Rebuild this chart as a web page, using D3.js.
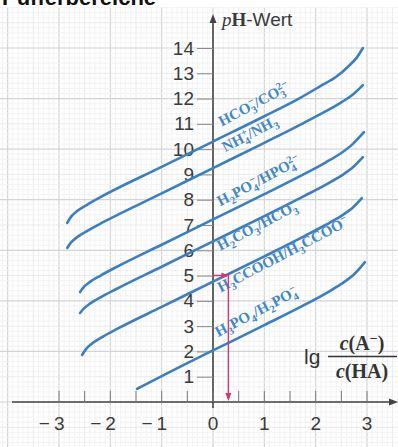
<!DOCTYPE html>
<html>
<head>
<meta charset="utf-8">
<script src="https://cdn.jsdelivr.net/npm/d3@7"></script>
<style>
  html, body { margin: 0; padding: 0; background: #fff; }
  svg { display: block; }
</style>
</head>
<body>
<svg id="chart" width="398" height="447"></svg>
<script>
const xTicks = [-3, -2, -1, 0, 1, 2, 3];
const yTicks = [1, 2, 3, 4, 5, 6, 7, 8, 9, 10, 11, 12, 13, 14];

// [lg(c(A-)/c(HA)), pH]
const carbonateCurve = [[-2.84, 7.08], [-2.76, 7.34], [-2.64, 7.56], [-2.44, 7.82], [-2.14, 8.16], [-1, 9.3], [0, 10.3], [1, 11.3], [1.7, 12.03], [2.1, 12.5], [2.4, 12.86], [2.65, 13.3], [2.8, 13.62], [2.92, 14.0]];
const ammoniumCurve = [[-2.84, 6.09], [-2.76, 6.32], [-2.64, 6.53], [-2.44, 6.78], [-2.14, 7.11], [-1, 8.25], [0, 9.25], [1, 10.25], [1.8, 11.07], [2.2, 11.5], [2.5, 11.85], [2.72, 12.15], [2.92, 12.53]];
const hydrogenPhosphateCurve = [[-2.59, 4.35], [-2.51, 4.56], [-2.39, 4.76], [-2.19, 5.0], [-1.89, 5.33], [-1, 6.22], [0, 7.22], [1, 8.22], [1.8, 9.04], [2.2, 9.48], [2.5, 9.85], [2.72, 10.2], [2.94, 10.67]];
const carbonicCurve = [[-2.59, 3.52], [-2.51, 3.71], [-2.39, 3.9], [-2.19, 4.14], [-1.89, 4.46], [-1, 5.35], [0, 6.35], [1, 7.35], [1.8, 8.17], [2.2, 8.6], [2.5, 8.95], [2.72, 9.27], [2.92, 9.68]];
const aceticCurve = [[-2.55, 1.86], [-2.47, 2.1], [-2.35, 2.32], [-2.15, 2.58], [-1.85, 2.91], [-1, 3.76], [0, 4.76], [1, 5.76], [1.8, 6.58], [2.2, 7.01], [2.5, 7.36], [2.72, 7.68], [2.9, 8.06]];
const phosphoricCurve = [[-1.48, 0.52], [-0.5, 1.54], [0, 2.04], [1, 3.04], [1.8, 3.86], [2.2, 4.3], [2.5, 4.67], [2.75, 5.05], [2.96, 5.53]];

// label text pieces: [text, kind]
const carbonateLabel = [["HCO", ""], ["3", "sub"], ["−", "sup"], ["/CO", ""], ["3", "sub"], ["2−", "sup"]];
const ammoniumLabel = [["NH", ""], ["4", "sub"], ["+", "sup"], ["/NH", ""], ["3", "sub"]];
const hydrogenPhosphateLabel = [["H", ""], ["2", "sub"], ["PO", ""], ["4", "sub"], ["−", "sup"], ["/HPO", ""], ["4", "sub"], ["2−", "sup"]];
const carbonicLabel = [["H", ""], ["2", "sub"], ["CO", ""], ["3", "sub"], ["/HCO", ""], ["3", "sub"], ["−", "sup"]];
const aceticLabel = [["H", ""], ["3", "sub"], ["CCOOH/H", ""], ["3", "sub"], ["CCOO", ""], ["−", "sup"]];
const phosphoricLabel = [["H", ""], ["3", "sub"], ["PO", ""], ["4", "sub"], ["/H", ""], ["2", "sub"], ["PO", ""], ["4", "sub"], ["−", "sup"]];

// example reading: pH 5 -> lg ratio 0.3
const exampleReading = { lg: 0.3, pH: 5 };

const buffers = [
  { points: carbonateCurve, label: carbonateLabel, at: [0.17, 10.9] },
  { points: ammoniumCurve, label: ammoniumLabel, at: [0.24, 9.88] },
  { points: hydrogenPhosphateCurve, label: hydrogenPhosphateLabel, at: [0.14, 7.74] },
  { points: carbonicCurve, label: carbonicLabel, at: [0.14, 5.98] },
  { points: aceticCurve, label: aceticLabel, at: [0.15, 4.33] },
  { points: phosphoricCurve, label: phosphoricLabel, at: [0.1, 2.57] },
];

const width = 398;
const height = 447;
const svg = d3.select("#chart");

const x = d3.scaleLinear().domain([-3, 3]).range([59, 367]);
const y = d3.scaleLinear().domain([0, 14]).range([402, 48]);

const BLUE = "#3b7fc2";
const RED = "#d8336c";
const INK = "#3a3a3a";

// grid (mm paper)
const grid = svg.append("g");
const gx0 = Math.floor(x.invert(0) * 10), gx1 = Math.ceil(x.invert(width) * 10);
for (let i = gx0; i <= gx1; i++) {
  const major = i % 10 === 0, mid = i % 5 === 0;
  grid.append("line")
    .attr("x1", x(i / 10)).attr("x2", x(i / 10))
    .attr("y1", 7).attr("y2", height)
    .attr("stroke", major ? "#d4d4d4" : mid ? "#e4e4e4" : "#f0f0f0")
    .attr("stroke-width", major ? 1.2 : 0.8);
}
const gy0 = Math.floor(y.invert(height) * 5), gy1 = Math.ceil(y.invert(7) * 5);
for (let j = gy0; j <= gy1; j++) {
  const major = j % 10 === 0, mid = j % 5 === 0;
  const yy = y(j / 5);
  if (yy < 7) continue;
  grid.append("line")
    .attr("x1", 0).attr("x2", width)
    .attr("y1", yy).attr("y2", yy)
    .attr("stroke", major ? "#d4d4d4" : mid ? "#e4e4e4" : "#f0f0f0")
    .attr("stroke-width", major ? 1.2 : 0.8);
}

// heading, cut off by the top edge in the original scan
svg.append("text")
  .attr("x", 2).attr("y", 5)
  .attr("font-family", "Liberation Sans, Arial, sans-serif")
  .attr("font-weight", "bold")
  .attr("font-size", 22)
  .attr("fill", "#111")
  .text("Pufferbereiche");

// axes
const axes = svg.append("g");
axes.append("line")
  .attr("x1", 12).attr("x2", 392)
  .attr("y1", y(0)).attr("y2", y(0))
  .attr("stroke", "#444").attr("stroke-width", 1.6);
axes.append("path")
  .attr("d", `M398,${y(0)} l-9,-3.5 l0,7 z`)
  .attr("fill", "#444");
axes.append("line")
  .attr("x1", x(0)).attr("x2", x(0))
  .attr("y1", 408).attr("y2", 22)
  .attr("stroke", "#444").attr("stroke-width", 1.6);
axes.append("path")
  .attr("d", `M${x(0)},14 l-3.5,9 l7,0 z`)
  .attr("fill", "#444");

// small ticks on the x axis every half unit
axes.selectAll(".xminor")
  .data(d3.range(-6, 7).map((d) => d / 2))
  .join("line")
  .attr("x1", (d) => x(d)).attr("x2", (d) => x(d))
  .attr("y1", y(0) - 11).attr("y2", y(0))
  .attr("stroke", "#777").attr("stroke-width", 1);

// y axis ticks + labels
const yAxis = svg.append("g")
  .attr("transform", `translate(${x(0)},0)`)
  .call(d3.axisLeft(y).tickValues(yTicks).tickSize(16).tickPadding(3));
yAxis.select(".domain").remove();
yAxis.selectAll(".tick line").attr("stroke", "#8a8a8a").attr("stroke-width", 1);
yAxis.selectAll(".tick text")
  .attr("font-family", "Liberation Sans, Arial, sans-serif")
  .attr("font-size", 19)
  .attr("fill", INK);

// x labels: digit centred on the tick, minus hanging to the left
const xLab = svg.append("g")
  .attr("font-family", "Liberation Sans, Arial, sans-serif")
  .attr("font-size", 19)
  .attr("fill", INK);
xTicks.forEach((v) => {
  const t = xLab.append("text")
    .attr("y", 430);
  if (v < 0) {
    t.attr("x", x(v) + 5.5).attr("text-anchor", "end");
    t.append("tspan").text("−");
    t.append("tspan").attr("dx", 4).text(String(-v));
  } else {
    t.attr("x", x(v)).attr("text-anchor", "middle").text(String(v));
  }
});

// pH-Wert
const pHLab = svg.append("text")
  .attr("x", x(0) + 9).attr("y", 26)
  .attr("font-size", 19)
  .attr("fill", INK);
pHLab.append("tspan").attr("font-family", "Liberation Serif, serif").attr("font-style", "italic").text("p");
pHLab.append("tspan").attr("font-family", "Liberation Serif, serif").attr("font-weight", "bold").text("H");
pHLab.append("tspan").attr("font-family", "Liberation Sans, Arial, sans-serif").text("-Wert");

// lg c(A-)/c(HA)
const ratio = svg.append("g").attr("fill", "#333");
ratio.append("text")
  .attr("x", 304).attr("y", 364)
  .attr("font-family", "Liberation Sans, Arial, sans-serif")
  .attr("font-size", 21)
  .text("lg");
const num = ratio.append("text")
  .attr("x", 362).attr("y", 350)
  .attr("text-anchor", "middle")
  .attr("font-family", "Liberation Serif, serif")
  .attr("font-weight", "bold")
  .attr("font-size", 20);
num.append("tspan").attr("font-style", "italic").text("c");
num.append("tspan").text("(A");
num.append("tspan").attr("dy", -7).attr("font-size", 14).text("−");
num.append("tspan").attr("dy", 7).text(")");
ratio.append("line")
  .attr("x1", 328).attr("x2", 397)
  .attr("y1", 356.5).attr("y2", 356.5)
  .attr("stroke", "#333").attr("stroke-width", 1.6);
const den = ratio.append("text")
  .attr("x", 362).attr("y", 378)
  .attr("text-anchor", "middle")
  .attr("font-family", "Liberation Serif, serif")
  .attr("font-weight", "bold")
  .attr("font-size", 20);
den.append("tspan").attr("font-style", "italic").text("c");
den.append("tspan").text("(HA)");

// buffer curves
const line = d3.line()
  .x((d) => x(d[0]))
  .y((d) => y(d[1]))
  .curve(d3.curveMonotoneX);

svg.append("g")
  .selectAll("path")
  .data(buffers)
  .join("path")
  .attr("d", (d) => line(d.points))
  .attr("fill", "none")
  .attr("stroke", BLUE)
  .attr("stroke-width", 2.6)
  .attr("stroke-linecap", "round");

// curve labels, rotated along the slope
const angle = Math.atan2(y(0) - y(1), x(1) - x(0)) * 180 / Math.PI + 1.5;
const labels = svg.append("g")
  .attr("font-family", "Liberation Serif, serif")
  .attr("font-weight", "bold")
  .attr("font-size", 15)
  .attr("fill", "#4187c8");

buffers.forEach((b) => {
  const t = labels.append("text")
    .attr("transform", `translate(${x(b.at[0])},${y(b.at[1])}) rotate(${-angle})`);
  let off = 0;
  let prev = null;
  b.label.forEach(([txt, kind]) => {
    const target = kind === "sub" ? 4 : kind === "sup" ? -5.5 : 0;
    const ts = t.append("tspan").attr("dy", target - off).text(txt);
    if (kind) ts.attr("font-size", 10.5);
    if (kind === "sup" && prev && prev.kind === "sub") {
      ts.attr("dx", -prev.node.getComputedTextLength());
    }
    off = target;
    prev = { kind, node: ts.node() };
  });
});

// red reading arrow
const arrow = svg.append("g").attr("stroke", RED).attr("fill", RED);
arrow.append("path")
  .attr("d", `M${x(0)},${y(exampleReading.pH)} H${x(exampleReading.lg)} V${y(0) - 3}`)
  .attr("fill", "none")
  .attr("stroke-width", 1.4);
arrow.append("path")
  .attr("d", `M${x(exampleReading.lg)},${y(exampleReading.pH)} l-7,-3 l0,6 z`)
  .attr("stroke", "none");
arrow.append("path")
  .attr("d", `M${x(exampleReading.lg)},${y(0) - 1} l-3,-8 l6,0 z`)
  .attr("stroke", "none");
</script>
</body>
</html>
